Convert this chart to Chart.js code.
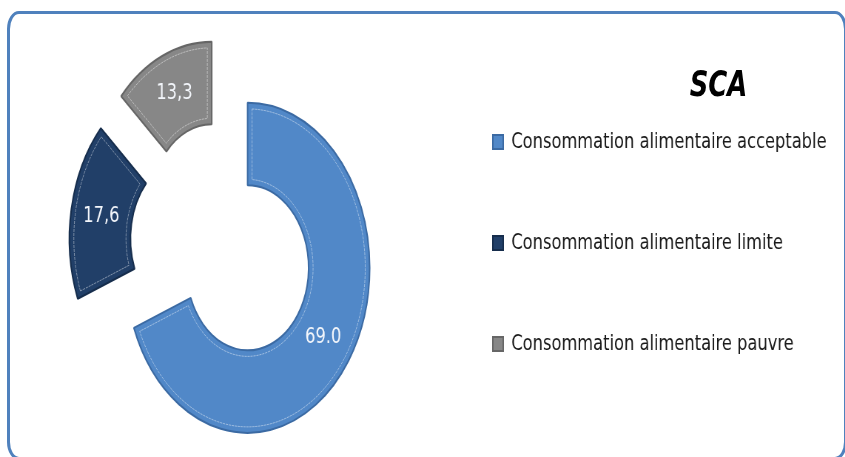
<!DOCTYPE html>
<html>
<head>
<meta charset="utf-8">
<script src="https://cdn.jsdelivr.net/npm/chart.js@4"></script>
<style>
  html, body { margin: 0; padding: 0; background: #ffffff; overflow: hidden; }
  body { width: 845px; height: 457px; position: relative; }
  #frame {
    position: absolute; left: 7px; top: 11px; width: 840px; height: 449px;
    box-sizing: border-box; border: 3px solid #4f81bd; border-radius: 12px / 18px;
  }
  /* the chart is laid out wide and then narrowed horizontally */
  #stage {
    position: absolute; left: 0; top: 0; width: 1142px; height: 457px;
    transform: scaleX(0.74); transform-origin: 0 0;
  }
  #title {
    position: absolute; left: 871px; width: 200px; top: 67px; text-align: center;
    font: italic bold 35px/35px "DejaVu Sans"; color: #000000;
  }
</style>
</head>
<body>
<div id="frame"></div>
<div id="stage">
  <canvas id="c" width="1142" height="457"></canvas>
  <div id="title"></div>
</div>
<script>
// Food consumption score (SCA) groups, in percent
const chartTitle = 'SCA';
const categories = [
  'Consommation alimentaire acceptable',
  'Consommation alimentaire limite',
  'Consommation alimentaire pauvre'
];
const shares = [69.0, 17.6, 13.3];
const decimalMarks = ['.', ',', ','];

// styling
const fills   = ['#5188c8', '#213f68', '#878787'];
const edges   = ['#3b6aa3', '#162d4c', '#666666'];
const explode = [37, 46, 44];   // how far each slice is pulled out from the centre
const bevelInset = 6;

document.getElementById('title').textContent = chartTitle;

function formatShare(v, mark) {
  return v.toFixed(1).replace('.', mark);
}

function pullVector(arc, dist) {
  const {startAngle, endAngle} = arc.getProps(['startAngle', 'endAngle'], true);
  const mid = (startAngle + endAngle) / 2;
  return {x: Math.cos(mid) * dist, y: Math.sin(mid) * dist};
}

// thin light line just inside each slice's outline, for a bevelled look
function strokeBevel(ctx, arc) {
  const {x, y, startAngle, endAngle, innerRadius, outerRadius} =
    arc.getProps(['x', 'y', 'startAngle', 'endAngle', 'innerRadius', 'outerRadius'], true);
  const ro = outerRadius - bevelInset;
  const ri = innerRadius + bevelInset;
  ctx.beginPath();
  ctx.arc(x, y, ro, startAngle + bevelInset / ro, endAngle - bevelInset / ro);
  ctx.arc(x, y, ri, endAngle - bevelInset / ri, startAngle + bevelInset / ri, true);
  ctx.closePath();
  ctx.strokeStyle = 'rgba(255,255,255,0.45)';
  ctx.lineWidth = 1;
  ctx.setLineDash([3, 1]);
  ctx.stroke();
  ctx.setLineDash([]);
}

// draws every slice pulled outward along its own middle angle
const explodedSlices = {
  id: 'explodedSlices',
  beforeDatasetDraw(chart, args) {
    const ctx = chart.ctx;
    args.meta.data.forEach((arc, i) => {
      const v = pullVector(arc, explode[i]);
      ctx.save();
      ctx.translate(v.x, v.y);
      arc.draw(ctx, chart.chartArea);
      strokeBevel(ctx, arc);
      ctx.restore();
    });
    return false;
  }
};

// value written in the middle of each slice
const sliceValues = {
  id: 'sliceValues',
  afterDatasetsDraw(chart) {
    const ctx = chart.ctx;
    const meta = chart.getDatasetMeta(0);
    ctx.save();
    ctx.font = '22px "DejaVu Sans"';
    ctx.fillStyle = '#f3f6fb';
    ctx.textAlign = 'center';
    ctx.textBaseline = 'middle';
    meta.data.forEach((arc, i) => {
      const p = arc.tooltipPosition(true);
      const v = pullVector(arc, explode[i]);
      ctx.fillText(formatShare(shares[i], decimalMarks[i]), p.x + v.x, p.y + v.y);
    });
    ctx.restore();
  }
};

Chart.defaults.font.family = '"DejaVu Sans"';

const chart = new Chart(document.getElementById('c'), {
  type: 'doughnut',
  data: {
    labels: categories,
    datasets: [{
      data: shares,
      backgroundColor: fills,
      borderColor: edges,
      borderWidth: 2,
      hoverOffset: 0
    }]
  },
  options: {
    responsive: false,
    animation: false,
    events: [],
    radius: 165,
    cutout: '50%',
    layout: { padding: { left: 21, top: 52, bottom: 15, right: 10 } },
    plugins: {
      tooltip: { enabled: false },
      legend: {
        position: 'right',
        align: 'start',
        labels: {
          boxWidth: 14,
          boxHeight: 14,
          padding: 79,
          color: '#1a1a1a',
          font: { size: 22, family: '"DejaVu Sans"' }
        }
      }
    }
  },
  plugins: [explodedSlices, sliceValues]
});

// keep the legend column at its place beside the ring
const legendLeft = 587;
const drift = chart.legend.left - legendLeft;
if (Math.abs(drift) > 0.5) {
  chart.options.layout.padding.right += drift;
  chart.update();
}
</script>
</body>
</html>
